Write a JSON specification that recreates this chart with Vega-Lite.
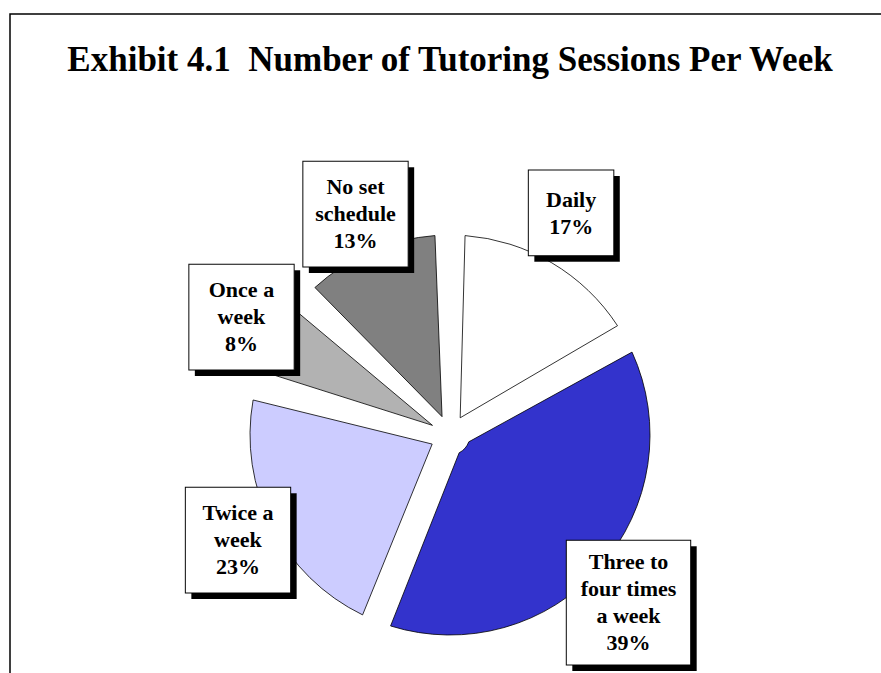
{
  "$schema": "https://vega.github.io/schema/vega-lite/v6.json",
  "autosize": {"type": "none"},
  "padding": {"left": 10, "top": 14, "right": -9, "bottom": -183},
  "width": 880,
  "height": 842,
  "background": "white",
  "view": {"stroke": "black", "strokeWidth": 1.5},
  "config": {
    "view": {"stroke": "black", "strokeWidth": 1.5},
    "font": "Liberation Serif"
  },
  "title": {
    "text": "Exhibit 4.1\u00a0 Number of Tutoring Sessions Per Week",
    "font": "Liberation Serif",
    "fontSize": 35,
    "fontWeight": "bold",
    "color": "black",
    "anchor": "middle",
    "baseline": "alphabetic",
    "offset": -92
  },
  "data": {
    "values": [
      {"category": "Daily", "rank": 1, "pct": 17, "label": "Daily\n17%"},
      {"category": "Three to four times a week", "rank": 2, "pct": 39, "label": "Three to\nfour times\na week\n39%"},
      {"category": "Twice a week", "rank": 3, "pct": 23, "label": "Twice a\nweek\n23%"},
      {"category": "Once a week", "rank": 4, "pct": 8, "label": "Once a\nweek\n8%"},
      {"category": "No set schedule", "rank": 5, "pct": 13, "label": "No set\nschedule\n13%"}
    ]
  },
  "encoding": {
    "theta": {"field": "pct", "type": "quantitative", "stack": true},
    "order": {"field": "rank", "type": "quantitative", "sort": "ascending"}
  },
  "layer": [
    {
      "mark": {"type": "arc", "outerRadius": 200, "innerRadius": 20, "padAngle": 0.15, "stroke": "black", "strokeWidth": 0.8},
      "encoding": {
        "color": {
          "field": "category",
          "type": "nominal",
          "scale": {
            "domain": ["Daily", "Three to four times a week", "Twice a week", "Once a week", "No set schedule"],
            "range": ["#ffffff", "#3333cc", "#ccccff", "#b2b2b2", "#808080"]
          },
          "legend": null
        }
      }
    },
    {
      "mark": {"type": "text", "text": "■", "font": "DejaVu Sans", "radius": 238, "dx": 6, "dy": -70, "fill": "black", "align": "center", "baseline": "top"},
      "encoding": {
        "size": {
          "field": "category",
          "type": "nominal",
          "scale": {"type": "ordinal", "domain": ["Daily", "Three to four times a week", "Twice a week", "Once a week", "No set schedule"], "range": [112, 163, 138, 138, 138]},
          "legend": null
        }
      }
    },
    {
      "mark": {"type": "text", "text": "■", "font": "DejaVu Sans", "radius": 238, "dy": -76, "fill": "white", "stroke": "black", "strokeWidth": 1, "align": "center", "baseline": "top"},
      "encoding": {
        "size": {
          "field": "category",
          "type": "nominal",
          "scale": {"type": "ordinal", "domain": ["Daily", "Three to four times a week", "Twice a week", "Once a week", "No set schedule"], "range": [112, 163, 138, 138, 138]},
          "legend": null
        }
      }
    },
    {
      "mark": {"type": "text", "radius": 238, "dy": -30, "font": "Liberation Serif", "fontWeight": "bold", "fontSize": 22, "lineBreak": "\n", "lineHeight": 27, "align": "center", "baseline": "middle", "fill": "black"},
      "encoding": {
        "text": {"field": "label", "type": "nominal"}
      }
    }
  ]
}
